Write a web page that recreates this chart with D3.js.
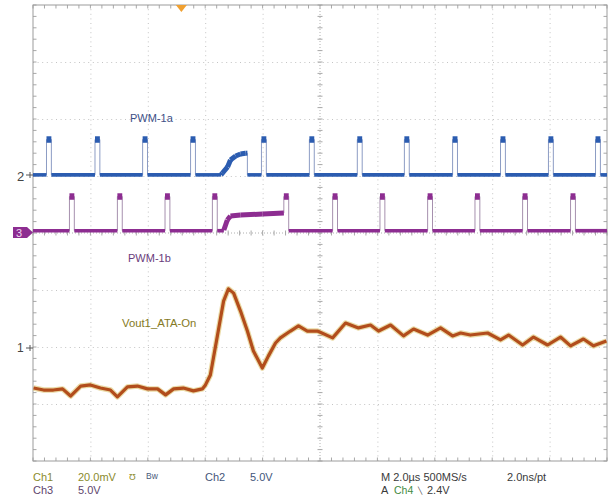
<!DOCTYPE html>
<html>
<head>
<meta charset="utf-8">
<script src="https://cdn.jsdelivr.net/npm/d3@7"></script>
<style>
  html, body { margin: 0; padding: 0; background: #fff; }
  svg { display: block; }
  text { font-family: "Liberation Sans", Arial, sans-serif; }
</style>
</head>
<body>
<svg id="chart" width="610" height="497"></svg>
<script>
// ---------------- DATA ----------------
// time axis: 10 divisions x 2.0 µs
const timeDomain = [0, 20];                 // µs
const timeDivs = [0, 2, 4, 6, 8, 10, 12, 14, 16, 18, 20];
const vertDivs = [-4, -3, -2, -1, 0, 1, 2, 3, 4];

// Ch2 (PWM-1a), 5.0 V/div, rising edges of pulses (µs)
const ch2PulseStart = [0.47, 2.16, 3.82, 5.49, 7.96, 9.63, 11.30, 12.94, 14.62, 16.29, 17.96, 19.60];
const ch2Low = 0.1, ch2High = 3.2;             // V
const ch2BumpT = [6.55, 6.60, 6.78, 6.88, 7.06, 7.23, 7.40, 7.47];
const ch2BumpV = [0.1, 0.26, 0.79, 1.40, 1.75, 1.93, 2.00, 2.00];

// Ch3 (PWM-1b), 5.0 V/div
const ch3PulseStart = [1.27, 2.94, 4.60, 6.25, 8.74, 10.44, 12.09, 13.75, 15.40, 17.06, 18.73];
const ch3Low = 0.2, ch3High = 3.2;             // V
const ch3PlateauT = [6.65, 6.77, 6.88, 7.23, 8.00, 8.74];
const ch3PlateauV = [0.26, 1.14, 1.49, 1.58, 1.66, 1.75];

const pulseWidth = 0.17;                       // µs

// Ch1 (Vout1_ATA-On), 20.0 mV/div, AC
const voutT = [0.02, 0.37, 0.71, 1.03, 1.31, 1.66, 2.00, 2.35, 2.70, 2.94, 3.29, 3.64, 3.99, 4.34, 4.62,
  4.90, 5.24, 5.59, 5.90, 6.01, 6.18, 6.43, 6.64, 6.81, 6.99, 7.23, 7.47, 7.68, 7.99, 8.20, 8.45, 8.62,
  8.97, 9.25, 9.56, 9.91, 10.44, 10.89, 11.34, 11.76, 12.04, 12.46, 12.91, 13.26, 13.75, 14.20, 14.62,
  14.90, 15.24, 15.84, 16.29, 16.57, 17.06, 17.44, 17.93, 18.38, 18.73, 19.18, 19.53, 19.98];
const voutMv = [-14.4, -15.1, -15.1, -14.7, -17.2, -13.7, -13.3, -14.4, -15.1, -17.5, -14.0, -13.7, -14.7, -14.7, -16.8,
  -14.7, -14.4, -15.4, -14.7, -13.3, -9.8, 4.2, 16.1, 20.4, 18.9, 12.6, 5.6, -1.4, -7.4, -3.2, 1.4, 3.2,
  5.6, 7.4, 5.6, 5.6, 3.2, 8.4, 6.7, 7.7, 5.6, 7.7, 3.9, 6.3, 4.2, 6.7, 3.9,
  4.9, 4.2, 4.9, 2.5, 4.2, 0.7, 3.5, 0.7, 3.5, 0.4, 2.8, 0.4, 2.1];

const triggerTime = 5.17;  // µs

const labels = { ch2: "PWM-1a", ch3: "PWM-1b", ch1: "Vout1_ATA-On" };
const statusRow1 = ["Ch1", "20.0mV", "Ch2", "5.0V"];
const statusRow2 = ["Ch3", "5.0V"];
const timebase = ["M 2.0µs 500MS/s", "2.0ns/pt"];
const trigInfo = ["A", "Ch4", "\u2572", "2.4V"];

// ---------------- LAYOUT ----------------
const svg = d3.select("#chart");
const L = 33, R = 607, T = 5, B = 461;

const x = d3.scaleLinear().domain(timeDomain).range([L, R]);
const yDiv = d3.scaleLinear().domain([-4, 4]).range([B, T]);
const yCh1 = d3.scaleLinear().domain([-40, 120]).range([B, T]);  // ground at -2 div
const yCh2 = d3.scaleLinear().domain([-25, 15]).range([B, T]);   // ground at +1 div
const yCh3 = d3.scaleLinear().domain([-20, 20]).range([B, T]);   // ground at 0 div

// ---------------- GRID ----------------
const gridColor = "#c4c4c4";
const g = svg.append("g");

g.append("g")
  .attr("transform", `translate(0,${B})`)
  .call(d3.axisBottom(x).tickValues(timeDivs.slice(1, -1).filter(d => d !== 10)).tickSize(-(B - T)).tickFormat(""))
  .call(s => s.select(".domain").remove())
  .call(s => s.selectAll("line").attr("stroke", gridColor).attr("stroke-dasharray", "1,3.6"));

g.append("g")
  .attr("transform", `translate(${L},0)`)
  .call(d3.axisLeft(yDiv).tickValues(vertDivs.slice(1, -1).filter(d => d !== 0)).tickSize(-(R - L)).tickFormat(""))
  .call(s => s.select(".domain").remove())
  .call(s => s.selectAll("line").attr("stroke", gridColor).attr("stroke-dasharray", "1,3.6"));

g.append("line").attr("x1", x(10)).attr("x2", x(10)).attr("y1", T).attr("y2", B)
  .attr("stroke", "#b0b0b0").attr("stroke-dasharray", "1,2");
g.append("line").attr("x1", L).attr("x2", R).attr("y1", yDiv(0)).attr("y2", yDiv(0))
  .attr("stroke", "#b0b0b0").attr("stroke-dasharray", "1,2");

const minorX = d3.range(0, 20.001, 0.4);
const minorY = d3.range(-4, 4.001, 0.2);
const tickCol = "#a8a8a8";
minorX.forEach(t => {
  g.append("line").attr("x1", x(t)).attr("x2", x(t)).attr("y1", yDiv(0) - 2.5).attr("y2", yDiv(0) + 2.5).attr("stroke", tickCol);
  g.append("line").attr("x1", x(t)).attr("x2", x(t)).attr("y1", T).attr("y2", T + 3.5).attr("stroke", tickCol);
  g.append("line").attr("x1", x(t)).attr("x2", x(t)).attr("y1", B - 3.5).attr("y2", B).attr("stroke", tickCol);
});
minorY.forEach(v => {
  g.append("line").attr("x1", x(10) - 2.5).attr("x2", x(10) + 2.5).attr("y1", yDiv(v)).attr("y2", yDiv(v)).attr("stroke", tickCol);
  g.append("line").attr("x1", L).attr("x2", L + 3.5).attr("y1", yDiv(v)).attr("y2", yDiv(v)).attr("stroke", tickCol);
  g.append("line").attr("x1", R - 3.5).attr("x2", R).attr("y1", yDiv(v)).attr("y2", yDiv(v)).attr("stroke", tickCol);
});

g.append("rect").attr("x", L).attr("y", T).attr("width", R - L).attr("height", B - T)
  .attr("fill", "none").attr("stroke", "#9c9c9c").attr("stroke-width", 1);

// ---------------- TRACES ----------------
// each point: [time, volts, kind]  kind: "b" base, "h" high, "s" shape
function buildCh2() {
  const pts = [[0, ch2Low, "b"]];
  let done = false;
  ch2PulseStart.forEach(p => {
    if (!done && p > ch2BumpT[ch2BumpT.length - 1]) {
      ch2BumpT.forEach((t, i) => pts.push([t, ch2BumpV[i], i === 0 ? "b" : "s"]));
      pts.push([ch2BumpT[ch2BumpT.length - 1], ch2Low, "b"]);
      done = true;
    }
    pts.push([p, ch2Low, "b"], [p, ch2High, "h"], [p + pulseWidth, ch2High, "h"], [p + pulseWidth, ch2Low, "b"]);
  });
  pts.push([20, ch2Low, "b"]);
  return pts;
}
function buildCh3() {
  const pts = [[0, ch3Low, "b"]];
  let done = false;
  const last = ch3PlateauT.length - 1;
  ch3PulseStart.forEach(p => {
    if (!done && p >= ch3PlateauT[last]) {
      pts.push([ch3PlateauT[0], ch3Low, "b"]);
      ch3PlateauT.forEach((t, i) => pts.push([t, ch3PlateauV[i], "s"]));
      done = true;
    } else {
      pts.push([p, ch3Low, "b"]);
    }
    pts.push([p, ch3High, "h"], [p + pulseWidth, ch3High, "h"], [p + pulseWidth, ch3Low, "b"]);
  });
  pts.push([20, ch3Low, "b"]);
  return pts;
}

function drawDigital(pts, yScale, thickColor, edgeColor) {
  const grp = svg.append("g");
  const line = d3.line().x(d => x(d[0])).y(d => yScale(d[1]));
  grp.append("path").attr("d", line(pts)).attr("fill", "none")
    .attr("stroke", edgeColor).attr("stroke-width", 1);
  for (let i = 0; i < pts.length - 1; i++) {
    const a = pts[i], b = pts[i + 1];
    if (Math.abs(a[0] - b[0]) < 1e-9) continue;
    const w = (a[2] === "h" && b[2] === "h") ? 6.5 : (b[2] === "s" ? 5 : 3.6);
    grp.append("path").attr("d", line([a, b])).attr("fill", "none")
      .attr("stroke", thickColor).attr("stroke-width", w).attr("stroke-linecap", "butt")
      .attr("stroke-linejoin", "round");
  }
}

drawDigital(buildCh2(), yCh2, "#2b5cb0", "#8c9cc4");
drawDigital(buildCh3(), yCh3, "#8d2d91", "#a690ae");

// Vout
const voutPts = voutT.map((t, i) => [t, voutMv[i]]);
const vLine = d3.line().x(d => x(d[0])).y(d => yCh1(d[1]));
svg.append("path").attr("d", vLine(voutPts)).attr("fill", "none")
  .attr("stroke", "#d9bb5c").attr("stroke-width", 5.5).attr("stroke-opacity", 0.55).attr("stroke-linejoin", "round");
svg.append("path").attr("d", vLine(voutPts)).attr("fill", "none")
  .attr("stroke", "#b24d1c").attr("stroke-width", 3.2).attr("stroke-linejoin", "round");

// ---------------- MARKERS ----------------
const tx = x(triggerTime);
svg.append("path").attr("d", `M${tx - 5.5},${T} L${tx + 5.5},${T} L${tx},${T + 7} Z`).attr("fill", "#f0a030");

function plusMarker(yy, color) {
  svg.append("line").attr("x1", 26).attr("x2", 33).attr("y1", yy).attr("y2", yy).attr("stroke", color).attr("stroke-width", 1);
  svg.append("line").attr("x1", 30).attr("x2", 30).attr("y1", yy - 3).attr("y2", yy + 3).attr("stroke", color).attr("stroke-width", 1);
}
svg.append("text").attr("x", 17).attr("y", yCh2(0) + 4.5).attr("font-size", 13).attr("fill", "#444").text("2");
plusMarker(yCh2(0) - 1, "#555");
svg.append("text").attr("x", 17).attr("y", yCh1(0) + 4.5).attr("font-size", 12).attr("fill", "#444").text("1");
plusMarker(yCh1(0) + 1, "#555");
svg.append("rect").attr("x", 13).attr("y", yCh3(0) - 6).attr("width", 14).attr("height", 11).attr("fill", "#8d2d91");
svg.append("path").attr("d", `M27,${yCh3(0) - 6} L33,${yCh3(0) - 0.5} L27,${yCh3(0) + 5} Z`).attr("fill", "#8d2d91");
svg.append("text").attr("x", 16).attr("y", yCh3(0) + 4).attr("font-size", 11).attr("fill", "#f0d8f0").text("3");

svg.append("text").attr("x", 130).attr("y", 122).attr("font-size", 11).attr("fill", "#3d4f86").text(labels.ch2);
svg.append("text").attr("x", 128).attr("y", 262).attr("font-size", 11).attr("fill", "#6a3c7c").text(labels.ch3);
svg.append("text").attr("x", 122).attr("y", 327).attr("font-size", 11.3).attr("fill", "#857a24").text(labels.ch1);

// ---------------- STATUS TEXT ----------------
const fs = 11;
const r1 = 481, r2 = 494;
svg.append("text").attr("x", 33).attr("y", r1).attr("font-size", fs).attr("fill", "#8a8a2c").text(statusRow1[0]);
svg.append("text").attr("x", 78).attr("y", r1).attr("font-size", fs).attr("fill", "#8a8a2c").text(statusRow1[1]);
svg.append("text").attr("x", 129).attr("y", r1 - 1).attr("font-size", 9).attr("fill", "#8a8a2c").text("\u01B1");
svg.append("text").attr("x", 146).attr("y", r1 - 2).attr("font-size", 8.5).attr("fill", "#4a5a7a").text("Bw");
svg.append("text").attr("x", 205).attr("y", r1).attr("font-size", fs).attr("fill", "#44567a").text(statusRow1[2]);
svg.append("text").attr("x", 250).attr("y", r1).attr("font-size", fs).attr("fill", "#44567a").text(statusRow1[3]);
svg.append("text").attr("x", 33).attr("y", r2).attr("font-size", fs).attr("fill", "#5e456c").text(statusRow2[0]);
svg.append("text").attr("x", 78).attr("y", r2).attr("font-size", fs).attr("fill", "#5e456c").text(statusRow2[1]);

svg.append("text").attr("x", 381).attr("y", r1).attr("font-size", fs).attr("fill", "#3a3a3a").text(timebase[0]);
svg.append("text").attr("x", 507).attr("y", r1).attr("font-size", fs).attr("fill", "#3a3a3a").text(timebase[1]);
svg.append("text").attr("x", 381).attr("y", r2).attr("font-size", fs).attr("fill", "#3a3a3a").text(trigInfo[0]);
svg.append("text").attr("x", 394).attr("y", r2).attr("font-size", 10.5).attr("fill", "#3f8a3f").text(trigInfo[1]);
svg.append("text").attr("x", 418).attr("y", r2 - 1).attr("font-size", 7).attr("fill", "#3a3a3a").text(trigInfo[2]);
svg.append("text").attr("x", 427).attr("y", r2).attr("font-size", fs).attr("fill", "#3a3a3a").text(trigInfo[3]);
</script>
</body>
</html>
